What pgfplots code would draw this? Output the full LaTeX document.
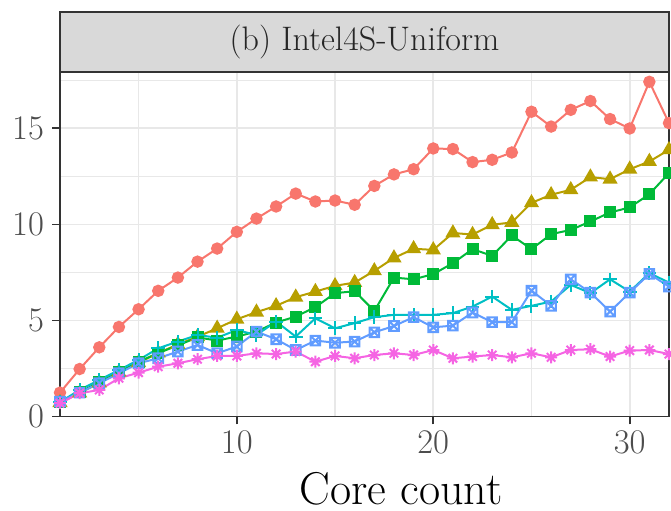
\documentclass[border=0pt]{standalone}
\usepackage{pgfplots}
\pgfplotsset{compat=1.18}
\usetikzlibrary{plotmarks}
\definecolor{cRed}{HTML}{F8766D}
\definecolor{cOlive}{HTML}{B79F00}
\definecolor{cGreen}{HTML}{00BA38}
\definecolor{cCyan}{HTML}{00BFC4}
\definecolor{cBlue}{HTML}{619CFF}
\definecolor{cMag}{HTML}{F564E3}
\definecolor{gridc}{HTML}{E8E8E8}
\definecolor{framec}{HTML}{333333}
\definecolor{stripc}{HTML}{D9D9D9}
\definecolor{tickc}{HTML}{4D4D4D}
\pgfdeclareplotmark{sqx}{%
  \pgfpathrectangle{\pgfpoint{-\pgfplotmarksize}{-\pgfplotmarksize}}{\pgfpoint{2\pgfplotmarksize}{2\pgfplotmarksize}}%
  \pgfpathmoveto{\pgfpoint{-\pgfplotmarksize}{-\pgfplotmarksize}}\pgfpathlineto{\pgfpoint{\pgfplotmarksize}{\pgfplotmarksize}}%
  \pgfpathmoveto{\pgfpoint{-\pgfplotmarksize}{\pgfplotmarksize}}\pgfpathlineto{\pgfpoint{\pgfplotmarksize}{-\pgfplotmarksize}}%
  \pgfusepathqstroke}
\pgfdeclareplotmark{ast8}{%
  \pgfpathmoveto{\pgfpoint{-\pgfplotmarksize}{0pt}}\pgfpathlineto{\pgfpoint{\pgfplotmarksize}{0pt}}%
  \pgfpathmoveto{\pgfpoint{0pt}{-\pgfplotmarksize}}\pgfpathlineto{\pgfpoint{0pt}{\pgfplotmarksize}}%
  \pgfpathmoveto{\pgfpoint{-0.7071\pgfplotmarksize}{-0.7071\pgfplotmarksize}}\pgfpathlineto{\pgfpoint{0.7071\pgfplotmarksize}{0.7071\pgfplotmarksize}}%
  \pgfpathmoveto{\pgfpoint{-0.7071\pgfplotmarksize}{0.7071\pgfplotmarksize}}\pgfpathlineto{\pgfpoint{0.7071\pgfplotmarksize}{-0.7071\pgfplotmarksize}}%
  \pgfusepathqstroke}
\begin{document}
\begin{tikzpicture}
\begin{axis}[
  name=ax,
  scale only axis,
  width=304.5pt, height=172.25pt,
  xmin=1, xmax=32, ymin=0, ymax=17.93,
  xtick={10,20,30}, minor xtick={5,15,25},
  ytick={0,5,10,15}, minor ytick={2.5,7.5,12.5,17.5},
  grid=both,
  major grid style={draw=gridc, line width=0.8pt},
  minor grid style={draw=gridc, line width=0.7pt},
  tick align=outside,
  major tick length=4pt, minor tick length=0pt,
  tick style={draw=framec, line width=0.8pt},
  xtick pos=bottom, ytick pos=left,
  axis line style={draw=framec, line width=0.9pt},
  tick label style={font=\fontsize{16}{19}\selectfont, text=tickc},
  yticklabel style={xshift=-0.5pt},
  xlabel={Core count},
  xlabel style={font=\fontsize{23}{27}\selectfont, at={(axis description cs:0.56,0)}, anchor=base, yshift=-44.25pt},
  every axis plot/.append style={line width=1pt},
  clip=true,
]
\addplot[color=cRed, mark=*, mark size=2.6pt] coordinates {
(1,1.24) (2,2.47) (3,3.60) (4,4.66) (5,5.58) (6,6.54) (7,7.23) (8,8.06) (9,8.74) (10,9.61)
(11,10.30) (12,10.93) (13,11.60) (14,11.19) (15,11.24) (16,11.02) (17,12.00) (18,12.60) (19,12.87) (20,13.95)
(21,13.92) (22,13.24) (23,13.36) (24,13.74) (25,15.86) (26,15.09) (27,15.96) (28,16.42) (29,15.48) (30,14.99)
(31,17.42) (32,15.27)};
\addplot[color=cOlive, mark=triangle*, mark size=3.4pt] coordinates {
(1,0.72) (2,1.22) (3,1.75) (4,2.30) (5,2.80) (6,3.30) (7,3.75) (8,4.15) (9,4.59) (10,5.06)
(11,5.43) (12,5.76) (13,6.21) (14,6.50) (15,6.80) (16,6.97) (17,7.58) (18,8.25) (19,8.73) (20,8.67)
(21,9.55) (22,9.47) (23,9.98) (24,10.10) (25,11.12) (26,11.54) (27,11.80) (28,12.46) (29,12.35) (30,12.87)
(31,13.27) (32,13.88)};
\addplot[color=cGreen, mark=square*, mark size=2.5pt] coordinates {
(1,0.75) (2,1.25) (3,1.80) (4,2.30) (5,2.85) (6,3.30) (7,3.70) (8,4.12) (9,3.95) (10,4.16)
(11,4.42) (12,4.89) (13,5.20) (14,5.69) (15,6.42) (16,6.52) (17,5.49) (18,7.23) (19,7.14) (20,7.41)
(21,7.98) (22,8.71) (23,8.36) (24,9.42) (25,8.71) (26,9.49) (27,9.71) (28,10.15) (29,10.62) (30,10.88)
(31,11.57) (32,12.67)};
\addplot[color=cCyan, mark=+, mark size=3.4pt] coordinates {
(1,0.75) (2,1.38) (3,1.90) (4,2.42) (5,2.94) (6,3.55) (7,3.90) (8,4.24) (9,4.10) (10,4.50)
(11,4.24) (12,4.94) (13,4.16) (14,5.11) (15,4.59) (16,4.86) (17,5.17) (18,5.29) (19,5.29) (20,5.29)
(21,5.38) (22,5.72) (23,6.24) (24,5.55) (25,5.76) (26,5.98) (27,6.85) (28,6.42) (29,7.14) (30,6.50)
(31,7.46) (32,6.97)};
\addplot[color=cBlue, mark=sqx, mark size=2.4pt] coordinates {
(1,0.77) (2,1.24) (3,1.73) (4,2.25) (5,2.77) (6,3.03) (7,3.38) (8,3.72) (9,3.29) (10,3.64)
(11,4.42) (12,4.02) (13,3.46) (14,3.95) (15,3.84) (16,3.90) (17,4.38) (18,4.71) (19,5.17) (20,4.64)
(21,4.73) (22,5.41) (23,4.91) (24,4.91) (25,6.55) (26,5.76) (27,7.14) (28,6.45) (29,5.46) (30,6.45)
(31,7.42) (32,6.76)};
\addplot[color=cMag, mark=ast8, mark size=3pt] coordinates {
(1,0.69) (2,1.21) (3,1.38) (4,1.99) (5,2.28) (6,2.59) (7,2.77) (8,2.98) (9,3.15) (10,3.15)
(11,3.29) (12,3.25) (13,3.38) (14,2.85) (15,3.15) (16,3.03) (17,3.20) (18,3.29) (19,3.20) (20,3.46)
(21,3.03) (22,3.12) (23,3.20) (24,3.08) (25,3.29) (26,3.08) (27,3.46) (28,3.50) (29,3.12) (30,3.43)
(31,3.46) (32,3.25)};
\end{axis}
\draw[fill=stripc, draw=framec, line width=0.9pt] (ax.north west) rectangle ([yshift=30pt]ax.north east);
\node[font=\fontsize{17}{20}\selectfont, text=black!85] at ([yshift=15pt]ax.north) {(b) Intel4S-Uniform};
\pgfresetboundingbox
\useasboundingbox ([xshift=-30pt,yshift=-47.25pt]ax.south west) rectangle ([xshift=1pt,yshift=36pt]ax.north east);
\end{tikzpicture}
\end{document}
